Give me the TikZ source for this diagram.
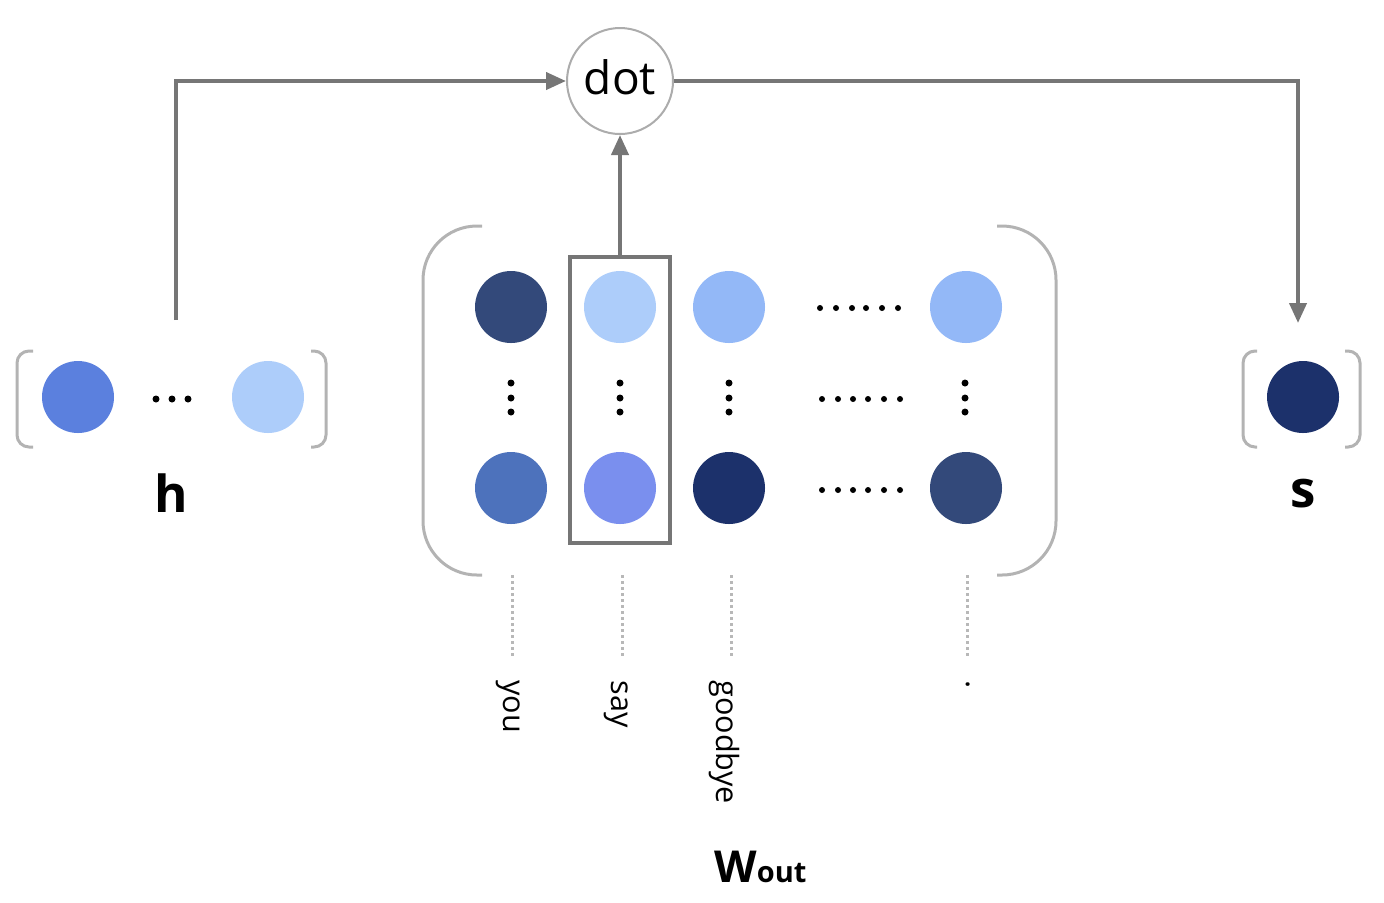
\documentclass[tikz,border=0pt]{standalone}
\usepackage{fontspec}
\setmainfont{Open Sans}
\usetikzlibrary{arrows.meta}
\definecolor{cA}{HTML}{5B80DE}
\definecolor{cB}{HTML}{ADCDFA}
\definecolor{cC}{HTML}{33497A}
\definecolor{cD}{HTML}{93B8F7}
\definecolor{cE}{HTML}{4D72BC}
\definecolor{cF}{HTML}{7A8FEE}
\definecolor{cG}{HTML}{1C316B}
\definecolor{arrgray}{HTML}{767676}
\definecolor{brkgray}{HTML}{B3B3B3}
\definecolor{ringgray}{HTML}{ACACAC}
\definecolor{dotlinegray}{HTML}{B8B8B8}
\begin{document}
\begin{tikzpicture}[x=0.5pt,y=-0.5pt,
  vec/.style={circle, minimum size=36pt, inner sep=0pt},
  brk/.style={draw=brkgray, line width=1.5pt, rounded corners=6pt},
  bigbrk/.style={draw=brkgray, line width=1.5pt, rounded corners=27pt},
  flow/.style={draw=arrgray, line width=2pt, -{Triangle[length=10pt,width=8.5pt]}},
  guide/.style={draw=dotlinegray, line width=1.5pt, dash pattern=on 1.3pt off 1.7pt},
  word/.style={rotate=-90, anchor=base west, inner sep=0pt, font=\fontsize{15.3}{18}\selectfont},
  title/.style={inner sep=0pt, anchor=base, font=\fontsize{25.5}{30}\selectfont\bfseries},
  blk/.style={fill=black}
]
\useasboundingbox (0,0) rectangle (1384,902);

% ---- h vector ----
\draw[brk] (33,351) -- (17,351) -- (17,447) -- (33,447);
\draw[brk] (311,351) -- (326,351) -- (326,447) -- (311,447);
\node[vec, fill=cA] (h1) at (78,397) {};
\node[vec, fill=cB] (h2) at (268,397) {};
\foreach \x in {156,172,188} \fill[blk] (\x,399) circle[radius=1.75pt];
\node[title] (hlab) at (171,512) {h};

% ---- s vector ----
\draw[brk] (1257,351) -- (1243,351) -- (1243,447) -- (1257,447);
\draw[brk] (1345,351) -- (1360,351) -- (1360,447) -- (1345,447);
\node[vec, fill=cG] (s1) at (1303,397) {};
\node[title] (slab) at (1303,507) {s};

% ---- W_out matrix ----
\draw[bigbrk] (482,226) -- (423,226) -- (423,575) -- (482,575);
\draw[bigbrk] (997,226) -- (1056,226) -- (1056,575) -- (997,575);

\node[vec, fill=cC] (m11) at (511,307) {};
\node[vec, fill=cB] (m12) at (620,307) {};
\node[vec, fill=cD] (m13) at (729,307) {};
\node[vec, fill=cD] (m14) at (966,307) {};
\node[vec, fill=cE] (m21) at (511,488) {};
\node[vec, fill=cF] (m22) at (620,488) {};
\node[vec, fill=cG] (m23) at (729,488) {};
\node[vec, fill=cC] (m24) at (966,488) {};

\foreach \x in {511,620,729,965}
  \foreach \y in {383,398,412}
    \fill[blk] (\x,\y) circle[radius=1.75pt];
\foreach \x in {820,836,852,866,882,898} \fill[blk] (\x,308) circle[radius=1.5pt];
\foreach \x in {822,838,853,868,884,900} \fill[blk] (\x,399) circle[radius=1.5pt];
\foreach \x in {822,838,853,868,884,900} \fill[blk] (\x,490) circle[radius=1.5pt];

\node[draw=arrgray, line width=2pt, minimum width=50.25pt, minimum height=143pt, inner sep=0pt] (saybox) at (620,400) {};

% ---- word guides ----
\coordinate (g1a) at (512,575); \coordinate (g1b) at (512,658);
\coordinate (g2a) at (622,575); \coordinate (g2b) at (622,658);
\coordinate (g3a) at (731,575); \coordinate (g3b) at (731,658);
\coordinate (g4a) at (967,575); \coordinate (g4b) at (967,658);
\draw[guide] (g1a) -- (g1b);
\draw[guide] (g2a) -- (g2b);
\draw[guide] (g3a) -- (g3b);
\draw[guide] (g4a) -- (g4b);

\node[word] (wyou) at (503,680) {you};
\node[word] (wsay) at (611,680) {say};
\node[word] (wgood) at (716,680) {goodbye};
\node[word] (wdot) at (966,680) {.};

\node[inner sep=0pt, anchor=base west] (wout) at (714,882)
  {{\fontsize{22}{26}\selectfont\bfseries W}{\fontsize{14.5}{16}\selectfont\bfseries out}};

% ---- dot node and connectors ----
\node[circle, draw=ringgray, line width=1pt, minimum size=53pt, inner sep=0pt,
      fill=white, text depth=4pt, font=\fontsize{23}{27}\selectfont] (dot) at (620,81) {dot};

\coordinate (hstart) at (176,320);
\coordinate (send) at (1298,323);
\draw[flow] (hstart) |- (dot.west);
\draw[flow] (saybox.north) -- (dot.south);
\draw[flow] (dot.east) -| (send);
\end{tikzpicture}
\end{document}
